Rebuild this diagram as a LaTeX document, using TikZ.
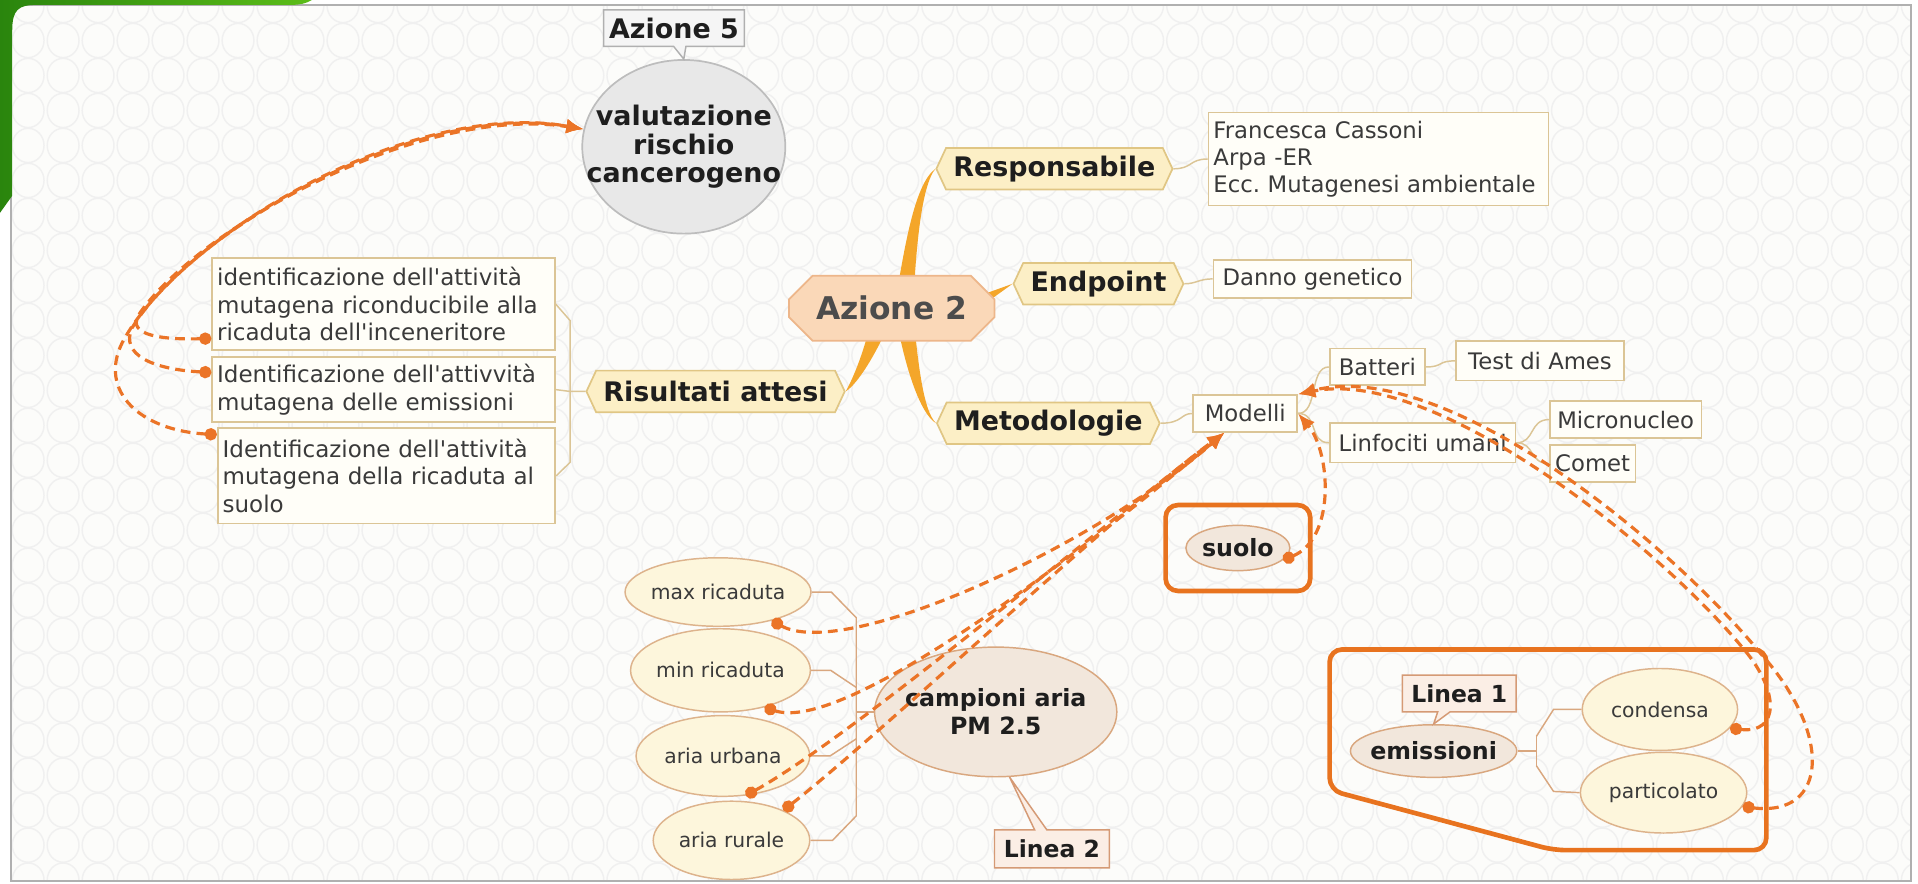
\documentclass[tikz,border=0pt]{standalone}
\usepackage{fontspec}
\setmainfont{DejaVu Sans}[Ligatures=TeXOff]
\usetikzlibrary{shapes.geometric,shapes.symbols,shapes.misc,shapes.callouts,arrows.meta,calc,fit,backgrounds}
\pgfdeclarelayer{pattern}
\pgfsetlayers{pattern,background,main}

\definecolor{paper}{HTML}{FCFCFA}
\definecolor{ringgray}{HTML}{F0F0F0}
\definecolor{framegray}{HTML}{B0B0B0}
\definecolor{darkgreen}{HTML}{2A850D}
\definecolor{lightgreen}{HTML}{5CBD19}
\definecolor{branchgold}{HTML}{F4A62A}
\definecolor{hexfill}{HTML}{FCEFC6}
\definecolor{hexline}{HTML}{E0C684}
\definecolor{leaffill}{HTML}{FFFEF8}
\definecolor{leafline}{HTML}{DBC596}
\definecolor{ellfill}{HTML}{FDF6DC}
\definecolor{ellline}{HTML}{DDB38C}
\definecolor{campfill}{HTML}{F2E7DC}
\definecolor{campline}{HTML}{D9A77F}
\definecolor{azfill}{HTML}{FAD8B8}
\definecolor{azline}{HTML}{EDB68A}
\definecolor{relorange}{HTML}{EB7427}
\definecolor{grouporange}{HTML}{E8731F}
\definecolor{callfill}{HTML}{FBEEE5}
\definecolor{callline}{HTML}{D59A75}
\definecolor{valfill}{HTML}{E8E8E8}
\definecolor{valline}{HTML}{BDBDBD}
\definecolor{inkdark}{HTML}{1E1E1E}
\definecolor{inkmid}{HTML}{3A3A3A}

\tikzset{
  hexnode/.style={shape=signal, signal to=west and east, signal pointer angle=130,
    draw=hexline, fill=hexfill, line width=0.7pt, inner xsep=3pt, inner ysep=0pt,
    minimum height=17pt, text=inkdark, font=\fontsize{11}{12}\selectfont\bfseries},
  leafbox/.style={rectangle, draw=leafline, fill=leaffill, line width=0.7pt, inner sep=1.5pt,
    text=inkmid, font=\fontsize{9.3}{11}\selectfont},
  textbox/.style={leafbox, align=left, inner xsep=2pt, font=\fontsize{9.4}{11.3}\selectfont},
  ellnode/.style={ellipse, draw=ellline, fill=ellfill, line width=0.6pt, inner ysep=0pt,
    inner xsep=-3pt, text=inkmid, font=\fontsize{8.3}{10}\selectfont},
  campnode/.style={ellipse, draw=campline, fill=campfill, line width=0.6pt, inner ysep=0pt,
    inner xsep=-4pt, align=center, text=inkdark, font=\fontsize{9.7}{11.5}\selectfont\bfseries},
  grpbox/.style={draw=grouporange, line width=1.9pt, rounded corners=5pt},
  tagbox/.style={rectangle callout, draw=callline, fill=callfill, line width=0.6pt,
    callout pointer width=5pt, inner sep=1pt, text=inkdark,
    font=\fontsize{9.6}{11}\selectfont\bfseries},
  twig/.style={draw=leafline, line width=0.6pt},
  ctwig/.style={draw=campline, line width=0.6pt},
  branch/.style={fill=branchgold},
  relline/.style={draw=relorange, line width=1.3pt, dash pattern=on 4pt off 2.5pt,
    {Circle[length=5pt]}-{Latex[length=7pt,width=6pt]}}
}

\begin{document}
\frenchspacing
\begin{tikzpicture}[x=0.5pt,y=-0.5pt]
  \useasboundingbox (0,0) rectangle (1568,722);

  \node[ellipse, draw=valline, fill=valfill, line width=0.7pt, inner xsep=-12pt, inner ysep=0pt,
    minimum width=83pt, minimum height=71pt, align=center, text=inkdark,
    font=\fontsize{11}{11.5}\selectfont\bfseries] (valut) at (559,120) {valutazione\\rischio\\cancerogeno};
  \node[tagbox, draw=framegray, fill=black!4, callout absolute pointer={(valut.north)},
    minimum width=57.5pt, minimum height=15pt, font=\fontsize{11}{12}\selectfont\bfseries] (az5) at (551,23) {Azione 5};

  \node[chamfered rectangle, chamfered rectangle xsep=6pt, draw=azline, fill=azfill, line width=0.7pt,
    minimum width=84pt, minimum height=26.5pt, text=black!70,
    font=\fontsize{12.8}{14}\selectfont\bfseries] (azione2) at (729,252) {Azione 2};

  \node[hexnode] (resp) at (862,138) {Responsabile};
  \node[hexnode] (endp) at (898,232) {Endpoint};
  \node[hexnode] (metod) at (857,346) {Metodologie};
  \node[hexnode] (risult) at (585,320) {Risultati attesi};

  \node[leafbox, align=left, inner xsep=2pt, text width=135pt, minimum height=38pt] (franc) at (1127,130)
    {Francesca Cassoni\\Arpa -ER\\Ecc. Mutagenesi ambientale};
  \node[leafbox, minimum width=81pt, minimum height=15.5pt] (danno) at (1073,228) {Danno genetico};
  \node[leafbox, minimum width=42.5pt, minimum height=15pt] (modelli) at (1018,338) {Modelli};
  \node[leafbox, minimum width=39pt, minimum height=15pt] (batteri) at (1126,300) {Batteri};
  \node[leafbox, minimum width=68.5pt, minimum height=16pt] (ames) at (1259,295) {Test di Ames};
  \node[leafbox, minimum width=76pt, minimum height=16pt] (linfo) at (1163,362) {Linfociti umani};
  \node[leafbox, minimum width=62pt, minimum height=15pt] (micro) at (1329,343) {Micronucleo};
  \node[leafbox, minimum width=35pt, minimum height=15pt] (comet) at (1302,379) {Comet};

  \node[textbox, text width=136pt, minimum height=37.5pt] (box1) at (313.5,248.5)
    {identificazione dell'attività\\mutagena riconducibile alla\\ricaduta dell'inceneritore};
  \node[textbox, text width=136pt, minimum height=26.5pt] (box2) at (313.5,318.5)
    {Identificazione dell'attivvità\\mutagena delle emissioni};
  \node[textbox, text width=134pt, minimum height=39pt] (box3) at (316,389)
    {Identificazione dell'attività\\mutagena della ricaduta al\\suolo};

  \node[ellnode, minimum width=76pt, minimum height=28pt] (maxric) at (587,484) {max ricaduta};
  \node[ellnode, minimum width=73.5pt, minimum height=34pt] (minric) at (589,548) {min ricaduta};
  \node[ellnode, minimum width=71pt, minimum height=33pt] (urbana) at (591,618) {aria urbana};
  \node[ellnode, minimum width=64pt, minimum height=32pt] (rurale) at (598,687) {aria rurale};
  \node[campnode, minimum width=99pt, minimum height=53pt] (camp) at (814,582) {campioni aria\\PM 2.5};
  \node[tagbox, callout absolute pointer={(camp.-78)}, minimum width=47pt, minimum height=15.5pt] (linea2) at (860,694) {Linea 2};

  \node[campnode, minimum width=42.5pt, minimum height=18.5pt] (suolo) at (1012,448) {suolo};
  \node[grpbox, fit=(suolo), inner xsep=8pt, inner ysep=8pt] (suologrp) {};

  \node[campnode, minimum width=68pt, minimum height=21.5pt] (emis) at (1172,614) {emissioni};
  \node[tagbox, callout absolute pointer={(emis.north)}, minimum width=46.5pt, minimum height=15pt] (linea1) at (1193,567) {Linea 1};
  \node[ellnode, minimum width=63.5pt, minimum height=33.5pt] (cond) at (1357,580) {condensa};
  \node[ellnode, minimum width=68pt, minimum height=33pt] (part) at (1360,648) {particolato};

  \coordinate (rj) at (466,320);
  \coordinate (cj) at (700,582);
  \coordinate (ej) at (1256,614);

  \begin{pgfonlayer}{pattern}
    \fill[white] (0,0) rectangle (1568,722);
    \fill[paper] (9,4) rectangle (1562,720);
    \begin{scope}
      \clip (9,4) rectangle (1562,720);
      \foreach \i in {0,...,54}
        \foreach \j in {0,...,25}
          \draw[ringgray, line width=0.6pt] (23+28.6*\i,4.5+28.6*\j) ellipse [x radius=6.5pt, y radius=7pt];
    \end{scope}
    \draw[framegray, line width=0.8pt] (9,4) rectangle (1562,720);
    \shade[left color=darkgreen, right color=lightgreen] (0,0) -- (255,0)
      .. controls (250,3) and (245,4) .. (238,4) -- (30,4) .. controls (15,4) and (10,8) .. (10,25)
      -- (10,160) -- (0,174) -- cycle;
  \end{pgfonlayer}

  \begin{pgfonlayer}{background}
    \fill[branch] (733,240) .. controls (740,200) and (748,150) .. (resp.west)
      .. controls (753,152) and (749,205) .. (747,240) -- cycle;
    \fill[branch] (733,262) .. controls (740,300) and (752,338) .. (metod.west)
      .. controls (755,336) and (751,300) .. (747,262) -- cycle;
    \fill[branch] (712,262) .. controls (706,290) and (696,312) .. (risult.east)
      .. controls (701,314) and (716,290) .. (728,262) -- cycle;
    \fill[branch] (800,242) -- (endp.west) -- (800,252) -- cycle;

    \draw[twig] (resp.east) .. controls (975,138) and (972,130) .. (franc.west);
    \draw[twig] (endp.east) .. controls (978,232) and (980,228) .. (danno.west);
    \draw[twig] (metod.east) .. controls (967,346) and (965,338) .. (modelli.west);
    \draw[twig] (modelli.east) .. controls (1078,338) and (1070,300) .. (batteri.west);
    \draw[twig] (modelli.east) .. controls (1078,338) and (1070,362) .. (linfo.west);
    \draw[twig] (batteri.east) .. controls (1180,300) and (1175,295) .. (ames.west);
    \draw[twig] (linfo.east) .. controls (1255,362) and (1250,343) .. (micro.west);
    \draw[twig] (linfo.east) .. controls (1255,362) and (1250,379) .. (comet.west);

    \draw[twig] (box1.east) -- ($(rj)+(0,-58)$) -- ($(rj)+(0,58)$) -- (box3.east);
    \draw[twig] (box2.east) -- (rj) -- (risult.west);

    \draw[ctwig] (maxric.east) -- ++(16,0) -- ($(cj)+(0,-77)$) -- ($(cj)+(0,85)$)
      -- ($(rurale.east)+(18,0)$) -- (rurale.east);
    \draw[ctwig] (minric.east) -- ++(16,0) -- ($(cj)+(0,-20)$);
    \draw[ctwig] (urbana.east) -- ++(16,0) -- ($(cj)+(0,22)$);
    \draw[ctwig] (cj) -- (camp.west);

    \draw[ctwig] (emis.east) -- (ej);
    \draw[ctwig] ($(ej)+(0,-12)$) -- ($(ej)+(0,12)$);
    \draw[ctwig] ($(ej)+(0,-12)$) -- ($(ej)+(14,-34)$) -- (cond.west);
    \draw[ctwig] ($(ej)+(0,12)$) -- ($(ej)+(14,33)$) -- (part.west);

    \draw[grpbox] (1087,531) -- (1444,531) -- (1444,695) -- (1270,695) -- (1087,646) -- cycle;
  \end{pgfonlayer}

  \draw[relline] ([yshift=5pt]box1.south west) .. controls (125,278) and (102,272) .. (115,255)
    .. controls (165,185) and (345,85) .. (valut.170);
  \draw[relline] ([yshift=7pt]box2.west) .. controls (125,302) and (98,290) .. (108,268)
    .. controls (155,190) and (340,82) .. (valut.170);
  \draw[relline] ([yshift=-3pt]box3.north west) .. controls (115,352) and (80,320) .. (100,280)
    .. controls (145,195) and (335,80) .. (valut.170);

  \draw[relline] (maxric.-28) .. controls (690,540) and (890,450) .. ([xshift=-8.5pt]modelli.south);
  \draw[relline] (minric.-40) .. controls (690,600) and (880,455) .. ([xshift=-8.5pt]modelli.south);
  \draw[relline] (urbana.-60) .. controls (700,600) and (900,430) .. ([xshift=-8.5pt]modelli.south);
  \draw[relline] (rurale.30) .. controls (720,600) and (905,425) .. ([xshift=-8.5pt]modelli.south);

  \draw[relline] (suolo.-15) .. controls (1092,440) and (1088,370) .. (modelli.east);

  \draw[relline] (cond.-15) .. controls (1455,600) and (1455,565) .. (1425,530)
    .. controls (1350,440) and (1170,300) .. (modelli.north east);
  \draw[relline] (part.-10) .. controls (1495,668) and (1498,600) .. (1440,535)
    .. controls (1362,440) and (1180,292) .. (modelli.north east);
\end{tikzpicture}
\end{document}
